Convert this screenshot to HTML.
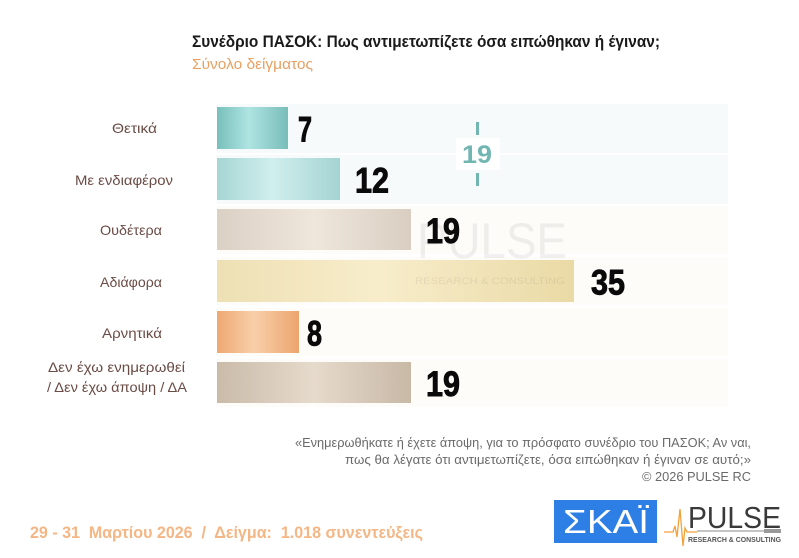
<!DOCTYPE html>
<html><head><meta charset="utf-8">
<style>
html,body{margin:0;padding:0;background:#fff;}
svg{display:block;}
text{font-family:"Liberation Sans","Noto Sans CJK SC",sans-serif;}
</style></head>
<body>
<svg width="799" height="558" viewBox="0 0 799 558" xmlns="http://www.w3.org/2000/svg">
<defs>
<linearGradient id="g1" x1="0" x2="1" y1="0" y2="0">
<stop offset="0" stop-color="#78bfbb"/><stop offset="0.45" stop-color="#aee4e2"/><stop offset="1" stop-color="#78bdb9"/></linearGradient>
<linearGradient id="g2" x1="0" x2="1" y1="0" y2="0">
<stop offset="0" stop-color="#a6d6d4"/><stop offset="0.45" stop-color="#d0eeee"/><stop offset="1" stop-color="#a4d4d2"/></linearGradient>
<linearGradient id="g3" x1="0" x2="1" y1="0" y2="0">
<stop offset="0" stop-color="#dbd0c4"/><stop offset="0.5" stop-color="#efe6dc"/><stop offset="1" stop-color="#d9cec1"/></linearGradient>
<linearGradient id="g4" x1="0" x2="1" y1="0" y2="0">
<stop offset="0" stop-color="#eee0b4"/><stop offset="0.45" stop-color="#f8edcb"/><stop offset="1" stop-color="#eadaa6"/></linearGradient>
<linearGradient id="g5" x1="0" x2="1" y1="0" y2="0">
<stop offset="0" stop-color="#eea872"/><stop offset="0.45" stop-color="#f8cfaa"/><stop offset="1" stop-color="#eda56e"/></linearGradient>
<linearGradient id="g6" x1="0" x2="1" y1="0" y2="0">
<stop offset="0" stop-color="#cabba9"/><stop offset="0.5" stop-color="#e6dacc"/><stop offset="1" stop-color="#c8b8a6"/></linearGradient>
</defs>

<!-- title -->
<text x="192" y="47" font-size="16.5" font-weight="bold" fill="#1a1a1a" textLength="468" lengthAdjust="spacingAndGlyphs">Συνέδριο ΠΑΣΟΚ: Πως αντιμετωπίζετε όσα ειπώθηκαν ή έγιναν;</text>
<text x="192" y="69" font-size="15" fill="#e8a062" textLength="121" lengthAdjust="spacingAndGlyphs">Σύνολο δείγματος</text>

<!-- tracks -->
<rect x="217" y="104" width="511" height="49" fill="#f6fafb"/>
<rect x="217" y="155" width="511" height="49" fill="#f6fafb"/>
<rect x="217" y="206" width="511" height="48" fill="#fefcf9"/>
<rect x="217" y="257" width="511" height="48" fill="#fefcf9"/>
<rect x="217" y="308" width="511" height="48" fill="#fefcf9"/>
<rect x="217" y="359" width="511" height="48" fill="#fefcf9"/>

<!-- bars -->
<rect x="217" y="107" width="71" height="42" fill="url(#g1)"/>
<rect x="217" y="158" width="123" height="42" fill="url(#g2)"/>
<rect x="217" y="209" width="194" height="41" fill="url(#g3)"/>
<rect x="217" y="260" width="357" height="42" fill="url(#g4)"/>
<rect x="217" y="311" width="82" height="42" fill="url(#g5)"/>
<rect x="217" y="362" width="194" height="41" fill="url(#g6)"/>

<!-- watermark -->
<text x="417" y="258" font-size="50" fill="#000" fill-opacity="0.06" textLength="150" lengthAdjust="spacingAndGlyphs">PULSE</text>
<text x="415" y="284" font-size="9" fill="#000" fill-opacity="0.07" textLength="150" lengthAdjust="spacingAndGlyphs">RESEARCH &amp; CONSULTING</text>

<!-- average marker -->
<rect x="456" y="138" width="44" height="32" fill="#ffffff"/>
<rect x="476" y="122" width="3" height="13" fill="#72b6b2"/>
<rect x="476" y="173" width="3" height="13" fill="#72b6b2"/>
<text x="462" y="163" font-size="25" font-weight="bold" fill="#72b6b2" textLength="30" lengthAdjust="spacingAndGlyphs">19</text>

<!-- values -->
<g font-size="35" font-weight="bold" fill="#0a0a0a" stroke="#0a0a0a" stroke-width="0.9">
<text x="298" y="141.5" textLength="14" lengthAdjust="spacingAndGlyphs">7</text>
<text x="355" y="192.5" textLength="34" lengthAdjust="spacingAndGlyphs">12</text>
<text x="426" y="243" textLength="34" lengthAdjust="spacingAndGlyphs">19</text>
<text x="591" y="294.5" textLength="34" lengthAdjust="spacingAndGlyphs">35</text>
<text x="307" y="345.5" textLength="15" lengthAdjust="spacingAndGlyphs">8</text>
<text x="426" y="396" textLength="34" lengthAdjust="spacingAndGlyphs">19</text>
</g>

<!-- category labels -->
<g font-size="14" fill="#6b4b45">
<text x="112" y="133" textLength="45" lengthAdjust="spacingAndGlyphs">Θετικά</text>
<text x="75" y="185" textLength="98" lengthAdjust="spacingAndGlyphs">Με ενδιαφέρον</text>
<text x="100" y="235" textLength="62" lengthAdjust="spacingAndGlyphs">Ουδέτερα</text>
<text x="100" y="287" textLength="62" lengthAdjust="spacingAndGlyphs">Αδιάφορα</text>
<text x="102" y="338" textLength="60" lengthAdjust="spacingAndGlyphs">Αρνητικά</text>
<text x="48" y="372" textLength="137" lengthAdjust="spacingAndGlyphs">Δεν έχω ενημερωθεί</text>
<text x="47" y="392" textLength="140" lengthAdjust="spacingAndGlyphs">/ Δεν έχω άποψη / ΔΑ</text>
</g>

<!-- footnote -->
<g font-size="13" fill="#6a6a6a" text-anchor="end" style="white-space:pre">
<text x="751" y="447" textLength="456" lengthAdjust="spacingAndGlyphs">«Ενημερωθήκατε ή έχετε άποψη, για το πρόσφατο συνέδριο του ΠΑΣΟΚ; Αν ναι,</text>
<text x="751" y="464" textLength="406" lengthAdjust="spacingAndGlyphs">πως  θα λέγατε ότι αντιμετωπίζετε, όσα ειπώθηκαν ή έγιναν σε αυτό;»</text>
<text x="751" y="481" textLength="109" lengthAdjust="spacingAndGlyphs">©  2026  PULSE RC</text>
</g>

<!-- bottom date -->
<text x="30" y="538" font-size="17" font-weight="bold" fill="#f4b684" textLength="393" lengthAdjust="spacingAndGlyphs" style="white-space:pre">29 - 31  Μαρτίου 2026  /  Δείγμα:  1.018 συνεντεύξεις</text>

<!-- SKAI logo -->
<rect x="554" y="500" width="103" height="43" fill="#2d7fe6"/>
<text x="563" y="533" font-size="33" fill="#ffffff" textLength="86" lengthAdjust="spacingAndGlyphs">ΣΚΑΪ</text>

<!-- PULSE logo -->
<polyline points="664,532 673,532 675,526 677,537 680,509 683,546 685,528 687,532 697,532" fill="none" stroke="#f2a23a" stroke-width="1.3"/>
<text x="688" y="528" font-size="31" fill="#3a3a3a" textLength="93" lengthAdjust="spacingAndGlyphs">PULSE</text>
<rect x="697" y="530.5" width="84" height="1" fill="#8a8a8a"/>
<rect x="764" y="529" width="17" height="4" fill="#9a9a9a"/>
<text x="688" y="542" font-size="7" font-weight="bold" fill="#555" textLength="93" lengthAdjust="spacingAndGlyphs">RESEARCH &amp; CONSULTING</text>
</svg>
</body></html>
